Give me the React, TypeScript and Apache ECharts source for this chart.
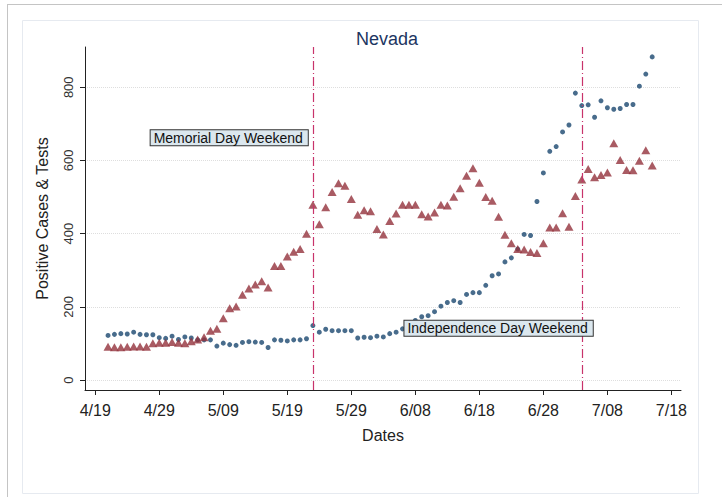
import React, { useEffect, useRef } from "react";
import * as echarts from "echarts";

// Day offsets are counted from 4/19.
const FIRST_DAY = 2;
const tickDays = [0, 10, 20, 30, 40, 50, 60, 70, 80, 90];
const tickLabels = ["4/19", "4/29", "5/09", "5/19", "5/29", "6/08", "6/18", "6/28", "7/08", "7/18"];
const yTicks = [0, 200, 400, 600, 800];

const blueSeries = [
  122, 125, 127, 126, 131, 125, 124, 124, 116, 114, 120, 111, 118, 115, 110, 110, 110, 93, 101, 97,
  95, 103, 105, 104, 103, 89, 110, 109, 107, 110, 110, 113, 149, 131, 139, 135, 135, 135, 135, 115,
  117, 116, 120, 118, 127, 131, 140, 152, 163, 173, 176, 187, 202, 212, 217, 212, 234, 239, 239, 259,
  285, 290, 323, 334, 358, 398, 395, 488, 566, 625, 638, 678, 697, 784, 750, 752, 718, 763, 744, 740,
  742, 753, 753, 803, 836, 883,
];

const redSeries = [
  91, 90, 90, 91, 92, 92, 91, 101, 102, 102, 104, 102, 101, 106, 111, 117, 135, 140, 169, 196,
  201, 233, 250, 261, 270, 253, 312, 312, 338, 351, 358, 400, 479, 426, 472, 514, 538, 531, 495, 452,
  464, 461, 413, 398, 435, 455, 479, 479, 479, 453, 447, 458, 479, 477, 501, 524, 558, 579, 539, 500,
  490, 446, 397, 374, 358, 357, 350, 347, 374, 417, 417, 456, 419, 503, 548, 577, 554, 560, 567, 647,
  601, 574, 573, 599, 628, 586,
];

const eventDays = [34, 76];
const memorialLabel = "Memorial Day Weekend";
const independenceLabel = "Independence Day Weekend";

const FONT = '"Liberation Sans", Arial, sans-serif';
const EVENT_LINE = { color: "#c8336b", type: [9, 3, 1, 3], width: 1.2 };

export default function App() {
  const ref = useRef<HTMLDivElement>(null);
  useEffect(() => {
    if (!ref.current) return;
    const chart = echarts.init(ref.current, null, { renderer: "svg" });
    const toPts = (arr: number[]) => arr.map((v, i) => [i + FIRST_DAY, v]);
    const frame = [
      { type: "line", shape: { x1: 7, y1: 4.5, x2: 722, y2: 4.5 }, style: { stroke: "#c4c4c4", lineWidth: 1 }, z: 0 },
      { type: "line", shape: { x1: 7.5, y1: 4, x2: 7.5, y2: 497 }, style: { stroke: "#c4c4c4", lineWidth: 1 }, z: 0 },
      { type: "rect", shape: { x: 22.5, y: 20.5, width: 676, height: 473 }, style: { fill: "none", stroke: "#e6eaf0", lineWidth: 1 }, z: 0 },
    ];
    chart.setOption({
      animation: false,
      backgroundColor: "#ffffff",
      textStyle: { fontFamily: FONT },
      title: {
        text: "Nevada",
        left: 382,
        textAlign: "center",
        top: 25,
        textStyle: { fontFamily: FONT, fontSize: 18, fontWeight: "normal", color: "#1c3561" },
      },
      grid: { left: 85, right: 41, top: 47, bottom: 107 },
      xAxis: {
        type: "value",
        min: -1.6,
        max: 91.5,
        axisLine: { show: true, onZero: false, lineStyle: { color: "#222", width: 1 } },
        axisTick: { show: true, customValues: tickDays, length: 5, lineStyle: { color: "#222" } },
        axisLabel: {
          customValues: tickDays,
          formatter: (v: number) => tickLabels[tickDays.indexOf(Math.round(v))] ?? "",
          fontSize: 16,
          color: "#222",
          margin: 12,
          fontFamily: FONT,
        },
        splitLine: { show: false },
        name: "Dates",
        nameLocation: "middle",
        nameGap: 37,
        nameTextStyle: { fontSize: 16, color: "#222", fontFamily: FONT },
      },
      yAxis: {
        type: "value",
        min: -27,
        max: 910,
        axisLine: { show: true, onZero: false, lineStyle: { color: "#222", width: 1 } },
        axisTick: { show: true, customValues: yTicks, length: 5, lineStyle: { color: "#222" } },
        axisLabel: {
          customValues: yTicks,
          rotate: 90,
          fontSize: 13,
          color: "#333",
          margin: 10,
          fontFamily: FONT,
        },
        splitLine: { show: true, lineStyle: { color: "#dedede", type: "dotted", width: 1 } },
        name: "Positive Cases & Tests",
        nameLocation: "middle",
        nameGap: 35,
        nameTextStyle: { fontSize: 16, color: "#222", fontFamily: FONT },
      },
      graphic: frame,
      series: [
        {
          name: "Positive cases",
          type: "scatter",
          data: toPts(blueSeries),
          symbol: "circle",
          symbolSize: 5,
          itemStyle: { color: "#1a476f" },
          z: 3,
        },
        {
          name: "Tests",
          type: "scatter",
          data: toPts(redSeries),
          symbol: "triangle",
          symbolSize: [9, 8],
          itemStyle: { color: "#93323c" },
          z: 4,
        },
        {
          name: "Events",
          type: "scatter",
          data: [],
          itemStyle: { color: "#c8336b" },
          z: 5,
          markLine: {
            silent: true,
            symbol: "none",
            label: { show: false },
            lineStyle: EVENT_LINE,
            data: eventDays.map((d) => ({ xAxis: d, lineStyle: EVENT_LINE })),
          },
        },
      ],
    });

    const p1 = chart.convertToPixel({ gridIndex: 0 }, [33.2, 662]) as number[];
    const p2 = chart.convertToPixel({ gridIndex: 0 }, [48.3, 142]) as number[];
    const boxStyle = {
      font: '14px "Liberation Sans", Arial, sans-serif',
      fill: "#111",
      backgroundColor: "#dbe7ee",
      borderColor: "#333",
      borderWidth: 1,
      padding: [1, 5, 0, 3],
      verticalAlign: "middle",
    };
    chart.setOption({
      graphic: [
        ...frame,
        { type: "text", x: p1[0], y: p1[1], z: 100, style: { ...boxStyle, text: memorialLabel, align: "right" } },
        { type: "text", x: p2[0], y: p2[1], z: 100, style: { ...boxStyle, text: independenceLabel, align: "left" } },
      ],
    });

    return () => chart.dispose();
  }, []);
  return (
    <div
      ref={ref}
      style={{ position: "fixed", left: 0, top: 0, width: 722, height: 497 }}
    />
  );
}
